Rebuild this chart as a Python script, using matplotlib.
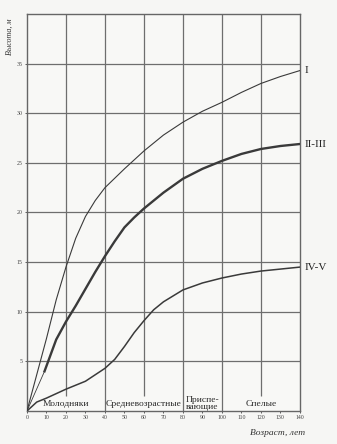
import numpy as np
import matplotlib.pyplot as plt

plt.rcParams['font.family'] = ['Liberation Serif', 'DejaVu Serif']

# growth curves: height (m) by age (years)
age_1 = [0, 10, 15, 20, 25, 30, 35, 40, 50, 60, 70, 80, 90, 100, 110, 120, 130, 140]
height_1 = [0, 7.3, 11.2, 14.5, 17.4, 19.6, 21.2, 22.5, 24.4, 26.2, 27.8, 29.1, 30.2, 31.1, 32.1, 33.0, 33.7, 34.3]

age_23 = [9, 15, 20, 25, 30, 35, 40, 45, 50, 55, 60, 70, 80, 90, 100, 110, 120, 130, 140]
height_23 = [4.0, 7.2, 9.0, 10.6, 12.3, 14.0, 15.6, 17.1, 18.5, 19.5, 20.4, 22.0, 23.4, 24.4, 25.2, 25.9, 26.4, 26.7, 26.9]
age_23_start = [0, 9]
height_23_start = [0, 4.0]

age_45 = [0, 5, 10, 20, 30, 40, 45, 50, 55, 60, 65, 70, 80, 90, 100, 110, 120, 130, 140]
height_45 = [0, 0.9, 1.3, 2.2, 3.0, 4.3, 5.2, 6.5, 7.9, 9.1, 10.2, 11.0, 12.2, 12.9, 13.4, 13.8, 14.1, 14.3, 14.5]

curve_names = ['I', 'II-III', 'IV-V']

x_ticks = list(range(0, 150, 10))
y_ticks = [5, 10, 15, 20, 25, 30, 35]

zone_bounds = [40, 80, 100]
inner_grid = [20, 60, 120]
zone_names = ['Молодняки', 'Средневозрастные', 'Приспе-\nвающие', 'Спелые']
zone_centers = [20, 60, 90, 120]

line_col = '#3a3a3a'
grid_col = '#6e6e6e'

fig = plt.figure(figsize=(3.37, 4.44), dpi=100)
fig.patch.set_facecolor('#f6f6f4')
ax = fig.add_axes([0.080, 0.0743, 0.810, 0.8942])
ax.set_facecolor('#f8f8f6')
ax.set_xlim(0, 140)
ax.set_ylim(0, 40)

# grid
ax.hlines(y_ticks, 0, 140, color=grid_col, lw=0.9, zorder=1)
ax.vlines(zone_bounds, 0, 40, color=grid_col, lw=0.9, zorder=1)
ax.vlines(inner_grid, 1.5, 40, color=grid_col, lw=0.9, zorder=1)

# curves
ax.plot(age_1, height_1, color=line_col, lw=0.8, zorder=3)
ax.plot(age_23_start, height_23_start, color=line_col, lw=0.6, zorder=3)
ax.plot(age_23, height_23, color=line_col, lw=1.7, zorder=3, solid_joinstyle='round')
ax.plot(age_45, height_45, color=line_col, lw=1.1, zorder=3, solid_joinstyle='round')

# curve labels at right end
for name, y in zip(curve_names, [height_1[-1], height_23[-1], height_45[-1]]):
    ax.text(142.5, y, name, fontsize=8, color='#222222',
            va='center', ha='left', clip_on=False)

# age-group zone labels
for name, xc in zip(zone_names, zone_centers):
    ax.text(xc, 0.75, name, fontsize=6.8, color='#2a2a2a', ha='center',
            va='center', linespacing=0.95)

ax.set_xticks(x_ticks)
ax.set_xticklabels([str(t) for t in x_ticks])
ax.set_yticks(y_ticks)
ax.set_yticklabels([str(t) for t in y_ticks])
ax.tick_params(axis='both', labelsize=4.2, length=1.5, width=0.6, colors='#444444', pad=1.5)

for s in ax.spines.values():
    s.set_color('#666666')
    s.set_linewidth(1.0)

fig.text(0.905, 0.025, 'Возраст, лет', fontsize=6.8, style='italic',
         ha='right', va='center', color='#333333')
fig.text(0.03, 0.917, 'Высота, м', fontsize=5.8, style='italic', rotation=90,
         ha='center', va='center', color='#333333')

plt.savefig('out.png', dpi=100, facecolor=fig.get_facecolor())
